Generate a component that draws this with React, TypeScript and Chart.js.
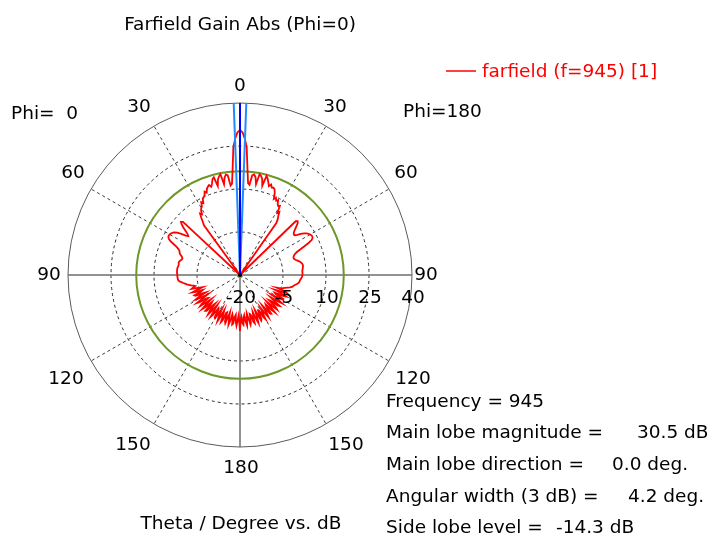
import React, { useEffect, useRef } from "react";
import { Chart, registerables } from "chart.js";

Chart.register(...registerables);

// Gain (dB) against theta, 1 degree steps from 0 to 180, for each cut half.
// Phi = 180 is drawn on the right (clockwise), Phi = 0 on the left.
const gainPhi180: number[] = [
  30.5, 29.8, 27.7, 24.6, 17.3, 12.2, 11.7, 15.0, 15.4, 14.6,
  12.2, 15.8, 15.3, 14.4, 12.1, 15.8, 15.0, 13.8, 12.6, 13.4,
  12.4, 12.6, 12.2, 11.0, 9.0, 9.7, 8.8, 9.3, 8.0, 7.5,
  7.8, 5.3, 5.9, 4.5, 3.6, 2.1, -20, -20, -20, -20,
  -20, -20, -20, -20, -20, -20, 7.0, 7.5, 7.1, 6.2,
  5.2, 4.4, 3.8, 3.5, 3.6, 4.4, 5.6, 6.7, 7.4, 7.9,
  8.3, 8.5, 8.6, 8.4, 7.8, 6.4, 4.6, 2.8, 1.4, 0.6,
  0.1, -0.2, -0.4, -0.4, -0.2, 0.2, 0.7, 1.2, 1.6, 1.9,
  2.1, 2.2, 2.2, 2.1, 2.0, 1.9, 1.8, 1.8, 1.8, 1.8,
  1.8, 1.7, 1.6, 1.4, 1.2, 1.0, 0.9, 0.8, 0.5, 0.1,
  -0.4, -0.8, -1.1, -1.4, -2.0, -2.9, -3.7, -4.3, -4.6, -6.4,
  -3.2, -2.5, -4.8, -6.9, -4.3, -2.3, -3.4, -6.4, -5.9, -2.7,
  -2.6, -5.3, -7.1, -3.9, -2.2, -4.0, -6.8, -5.2, -2.4, -3.0,
  -5.8, -6.6, -3.2, -2.3, -4.6, -7.0, -4.5, -2.1, -3.5, -6.4,
  -5.9, -2.6, -2.8, -5.4, -6.9, -3.6, -2.2, -4.2, -6.6, -4.8,
  -2.2, -3.2, -6.1, -6.2, -2.9, -2.5, -5.0, -6.7, -3.8, -2.1,
  -3.9, -6.4, -5.1, -2.4, -3.0, -5.7, -6.0, -3.1, -2.3, -4.5,
  -6.3, -4.3, -2.2, -3.5, -5.9, -5.2, -2.6, -3.1, -5.4, -4.6,
  -0.5,
];

const gainPhi0: number[] = [
  30.5, 29.8, 27.7, 24.5, 17.0, 12.0, 11.4, 15.0, 15.4, 14.4,
  12.1, 15.8, 15.2, 14.2, 12.0, 15.3, 14.8, 13.4, 12.4, 13.2,
  12.8, 12.2, 11.0, 11.6, 10.4, 10.0, 9.6, 8.2, 8.8, 7.4,
  7.0, 6.4, 5.0, 5.6, 4.2, 2.6, 1.4, -20, -20, -20,
  -20, -20, -20, -20, -20, -20, -20, 7.2, 7.7, 7.0,
  5.8, 4.4, 3.2, 2.6, 3.4, 5.0, 6.4, 7.3, 7.8, 8.1,
  8.3, 8.4, 8.3, 7.9, 7.0, 5.6, 4.3, 3.4, 2.8, 2.6,
  2.4, 2.0, 1.5, 1.1, 0.9, 1.0, 1.3, 1.6, 1.8, 1.8,
  1.7, 1.7, 1.8, 1.9, 2.0, 2.0, 2.0, 2.0, 2.0, 1.9,
  1.9, 1.9, 1.8, 1.8, 1.7, 1.6, 1.2, 0.6, 0.0, -0.6,
  -1.1, -1.8, -2.6, -3.4, -3.9, -3.0, -2.4, -4.6, -6.2, -4.0,
  -2.2, -3.5, -6.0, -5.2, -2.6, -2.9, -5.4, -6.6, -3.8, -2.3,
  -4.1, -6.8, -5.0, -2.1, -3.2, -6.0, -6.4, -3.3, -2.4, -4.8,
  -7.0, -4.4, -2.2, -3.6, -6.5, -5.8, -2.6, -2.9, -5.6, -6.8,
  -3.5, -2.3, -4.4, -6.9, -4.6, -2.2, -3.4, -6.3, -6.0, -2.8,
  -2.6, -5.2, -6.7, -3.7, -2.1, -4.0, -6.6, -4.9, -2.3, -3.1,
  -5.9, -6.2, -3.0, -2.4, -4.7, -6.5, -4.2, -2.2, -3.6, -6.1,
  -5.4, -2.5, -2.9, -5.3, -6.0, -3.4, -2.3, -4.2, -5.8, -3.9,
  -0.5,
];

// Radial axis (dB) and angular tick marks (theta, degrees)
const radialMin = -20;
const radialMax = 40;
const radialStep = 15;
const angleTicks = [0, 30, 60, 90, 120, 150, 180, 210, 240, 270, 300, 330];

// Main lobe summary values
const frequency = 945;
const mainLobeMagnitude = 30.5;
const mainLobeDirection = 0.0;
const angularWidth = 4.2;
const sideLobeLevel = -14.3;

const FONT = '18.5px "DejaVu Sans", Verdana, sans-serif';

// Build the full 360 degree ring: clockwise from the top is Phi=180, the rest Phi=0.
const displayAngles: string[] = [];
const ringGain: number[] = [];
for (let a = 0; a < 360; a++) {
  displayAngles.push(String(a));
  ringGain.push(a <= 180 ? gainPhi180[a] : gainPhi0[360 - a]);
}

// small nudges for the angular labels, keyed by display angle
const labelNudge: Record<number, [number, number]> = {
  0: [0, 5], 30: [-2, 0], 60: [-2, -5], 90: [-8, 0], 120: [5, 7], 150: [9, 2],
  180: [1, -1], 210: [-10, 2], 240: [-6, 7], 270: [3, 0], 300: [1, -5], 330: [-4, 0],
};

const overlayPlugin = {
  id: "farfieldOverlay",
  beforeDatasetsDraw(chart: any) {
    const s = chart.scales.r;
    const ctx = chart.ctx as CanvasRenderingContext2D;
    ctx.save();
    // side lobe level ring
    ctx.strokeStyle = "#6e9628";
    ctx.lineWidth = 2;
    ctx.beginPath();
    ctx.arc(
      s.xCenter,
      s.yCenter,
      s.getDistanceFromCenterForValue(mainLobeMagnitude + sideLobeLevel),
      0,
      Math.PI * 2
    );
    ctx.stroke();
    ctx.restore();
  },
  afterDatasetsDraw(chart: any) {
    const s = chart.scales.r;
    const ctx = chart.ctx as CanvasRenderingContext2D;
    const ray = (deg: number, color: string, w: number) => {
      const p = s.getPointPositionForValue(deg, radialMax);
      ctx.strokeStyle = color;
      ctx.lineWidth = w;
      ctx.beginPath();
      ctx.moveTo(s.xCenter, s.yCenter);
      ctx.lineTo(p.x, p.y);
      ctx.stroke();
    };
    ctx.save();
    // 3 dB beam edges and main lobe direction
    ray(mainLobeDirection - angularWidth / 2, "#1e8cff", 2);
    ray(mainLobeDirection + angularWidth / 2, "#1e8cff", 2);
    ray(mainLobeDirection, "#0000ff", 2);
    ctx.fillStyle = "#000";
    ctx.beginPath();
    ctx.arc(s.xCenter, s.yCenter, 2, 0, Math.PI * 2);
    ctx.fill();
    ctx.restore();
  },
  afterDraw(chart: any) {
    const s = chart.scales.r;
    const ctx = chart.ctx as CanvasRenderingContext2D;
    ctx.save();
    ctx.font = FONT;
    ctx.fillStyle = "#000";
    ctx.textBaseline = "middle";

    // angular labels
    ctx.textAlign = "center";
    for (const a of angleTicks) {
      const p = s.getPointPosition(a, s.drawingArea + 22);
      const [nx, ny] = labelNudge[a] || [0, 0];
      ctx.fillText(String(a <= 180 ? a : 360 - a), p.x + nx, p.y + ny);
    }

    // radial labels along the horizontal axis
    for (const t of s.ticks) {
      const x = s.xCenter + s.getDistanceFromCenterForValue(t.value);
      ctx.fillText(String(t.value), x + 1, s.yCenter + 23);
    }

    // titles
    ctx.fillText("Farfield Gain Abs (Phi=0)", 240, 25);
    ctx.fillText("Theta / Degree vs. dB", 241, 524);

    ctx.textAlign = "left";
    ctx.fillText("Phi=  0", 11, 114);
    ctx.fillText("Phi=180", 403, 112);

    // legend
    ctx.strokeStyle = "#ff0000";
    ctx.lineWidth = 1.5;
    ctx.beginPath();
    ctx.moveTo(446, 71);
    ctx.lineTo(476, 71);
    ctx.stroke();
    ctx.fillStyle = "#ff0000";
    ctx.fillText("farfield (f=" + frequency + ") [1]", 482, 72);

    // summary block
    ctx.fillStyle = "#000";
    const lx = 386;
    ctx.fillText("Frequency = " + frequency, lx, 402);
    ctx.fillText("Main lobe magnitude =", lx, 433);
    ctx.fillText(mainLobeMagnitude.toFixed(1) + " dB", 637, 433);
    ctx.fillText("Main lobe direction =", lx, 465);
    ctx.fillText(mainLobeDirection.toFixed(1) + " deg.", 612, 465);
    ctx.fillText("Angular width (3 dB) =", lx, 497);
    ctx.fillText(angularWidth.toFixed(1) + " deg.", 628, 497);
    ctx.fillText("Side lobe level =", lx, 528);
    ctx.fillText(sideLobeLevel.toFixed(1) + " dB", 556, 528);
    ctx.restore();
  },
};

export default function App() {
  const canvasRef = useRef<HTMLCanvasElement | null>(null);

  useEffect(() => {
    if (!canvasRef.current) return;
    const chart = new Chart(canvasRef.current, {
      type: "radar",
      data: {
        labels: displayAngles,
        datasets: [
          {
            label: "farfield (f=945) [1]",
            data: ringGain,
            borderColor: "#ff0000",
            borderWidth: 1.8,
            pointRadius: 0,
            pointHoverRadius: 0,
            fill: false,
            tension: 0,
          },
        ],
      },
      options: {
        responsive: false,
        animation: false,
        events: [],
        layout: { padding: { left: 68, top: 103, right: 300, bottom: 92 } },
        plugins: {
          legend: { display: false },
          tooltip: { enabled: false },
          title: { display: false },
        },
        scales: {
          r: {
            min: radialMin,
            max: radialMax,
            startAngle: 0,
            beginAtZero: false,
            ticks: { stepSize: radialStep, display: false },
            pointLabels: { display: false },
            grid: {
              circular: true,
              color: (c: any) => (c.tick && c.tick.value === radialMax ? "#5a5a5a" : "#2a2a2a"),
              lineWidth: (c: any) => (c.tick && c.tick.value === radialMin ? 0 : 1),
            },
            border: {
              dash: (c: any) => (c.tick && c.tick.value === radialMax ? [] : [3, 3]),
            },
            angleLines: {
              display: true,
              color: (c: any) => (c.index % 90 === 0 ? "#6e6e6e" : "#3c3c3c"),
              lineWidth: (c: any) => (c.index % 90 === 0 ? 1.5 : c.index % 30 === 0 ? 1 : 0),
              borderDash: (c: any) => (c.index % 90 === 0 ? [] : [3, 3]),
            },
          },
        },
      },
      plugins: [overlayPlugin],
    } as any);
    return () => chart.destroy();
  }, []);

  return (
    <div style={{ position: "fixed", left: 0, top: 0, width: 713, height: 540, background: "#fff" }}>
      <canvas ref={canvasRef} width={713} height={540} />
    </div>
  );
}
